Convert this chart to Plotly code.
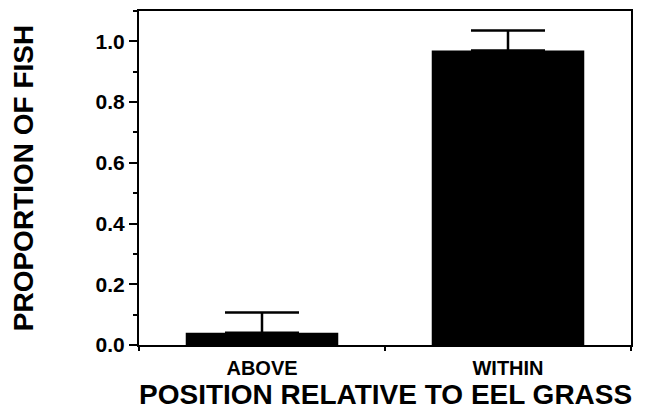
import plotly.graph_objects as go

categories = ["ABOVE", "WITHIN"]
proportions = [0.04, 0.97]
errors = [0.067, 0.066]

y_ticks = [0.0, 0.2, 0.4, 0.6, 0.8, 1.0]
y_tick_labels = ["0.0", "0.2", "0.4", "0.6", "0.8", "1.0"]

x_title = "POSITION RELATIVE TO EEL GRASS"
y_title = "PROPORTION OF FISH"

font_family = "Liberation Sans, Arial, Helvetica, sans-serif"

fig = go.Figure(
    go.Bar(
        x=categories,
        y=proportions,
        marker=dict(color="black", line=dict(width=0)),
        error_y=dict(type="data", array=errors, symmetric=False, arrayminus=[0, 0],
                     color="black", thickness=2.5, width=37),
    )
)

# the page body has an 8px margin, so the figure is made 8px smaller and shifted
fig.update_layout(
    width=640,
    height=403,
    margin=dict(l=131, r=17, t=3, b=66, autoexpand=False),
    plot_bgcolor="white",
    paper_bgcolor="white",
    bargap=0.38,
    showlegend=False,
    font=dict(family=font_family, color="black"),
)

fig.add_annotation(
    text="<b>%s</b>" % x_title,
    xref="paper", yref="paper", x=0.5, y=-0.148,
    xanchor="center", yanchor="middle", showarrow=False,
    font=dict(size=28, family=font_family, color="black"),
)

fig.update_xaxes(
    type="category",
    range=[-0.5, 1.5],
    showline=True, linecolor="black", linewidth=2, mirror=True,
    ticks="outside", tickson="boundaries", ticklen=4, tickwidth=2, tickcolor="black",
    ticktext=["<b>%s</b>" % c for c in categories], tickvals=categories,
    tickfont=dict(size=20),
    ticklabelstandoff=4,
    showgrid=False, automargin=False,
)

fig.update_yaxes(
    range=[0, 1.1],
    tickvals=y_ticks,
    ticktext=["<b>%s</b>" % t for t in y_tick_labels],
    showline=True, linecolor="black", linewidth=2, mirror=True,
    ticks="outside", ticklen=8, tickwidth=2, tickcolor="black",
    minor=dict(dtick=0.1, tick0=0, ticks="outside", ticklen=4, tickwidth=2, tickcolor="black", showgrid=False),
    tickfont=dict(size=21),
    showgrid=False, zeroline=False, automargin=False,
    title=dict(text="<b>%s</b>" % y_title, font=dict(size=28), standoff=56),
)

fig.write_html("out.html")
